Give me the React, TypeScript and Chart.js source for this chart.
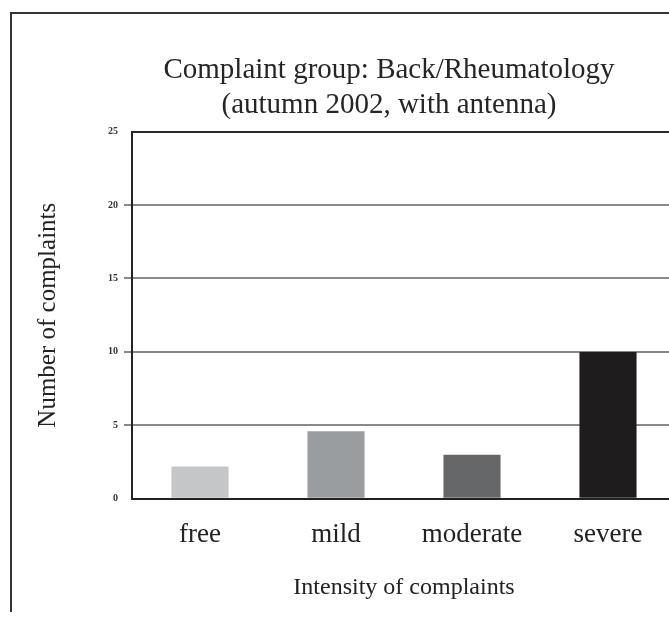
import React, { useEffect, useRef } from "react";
import { Chart, registerables } from "chart.js";

Chart.register(...registerables);

const categories = ["free", "mild", "moderate", "severe"];
const complaintCounts = [2.2, 4.6, 3.0, 10];
const barColors = ["#c4c6c7", "#9a9d9f", "#656768", "#1f1c1d"];
const yMin = 0;
const yMax = 25;
const yStep = 5;
const titleLines = ["Complaint group: Back/Rheumatology", "(autumn 2002, with antenna)"];
const xTitle = "Intensity of complaints";
const yTitle = "Number of complaints";

const SERIF = "'Liberation Serif', 'Times New Roman', serif";

export default function App() {
  const ref = useRef<HTMLCanvasElement | null>(null);

  useEffect(() => {
    if (!ref.current) return;
    const chart = new Chart(ref.current, {
      type: "bar",
      data: {
        labels: categories,
        datasets: [
          {
            data: complaintCounts,
            backgroundColor: barColors,
            borderWidth: 0,
            barPercentage: 0.42,
            categoryPercentage: 1,
          },
        ],
      },
      options: {
        responsive: false,
        animation: false,
        devicePixelRatio: 1,
        layout: { padding: { left: 90, right: 92, top: 0, bottom: 0 } },
        plugins: {
          legend: { display: false },
          tooltip: { enabled: false },
          title: {
            display: true,
            text: titleLines,
            color: "#252525",
            font: { family: SERIF, size: 29, weight: "normal", lineHeight: 1.2 },
            padding: { top: 39, bottom: 9 },
          },
        },
        scales: {
          x: {
            grid: { display: false, drawTicks: false },
            border: { display: true, color: "#222", width: 2 },
            ticks: {
              color: "#222",
              font: { family: SERIF, size: 27 },
              padding: 20,
            },
            title: {
              display: true,
              text: xTitle,
              color: "#222",
              font: { family: SERIF, size: 24 },
              padding: { top: 2, bottom: 10 },
            },
          },
          y: {
            min: yMin,
            max: yMax,
            ticks: {
              stepSize: yStep,
              color: "#333",
              font: { family: SERIF, size: 10, weight: "bold" },
              padding: 6,
            },
            grid: {
              lineWidth: 2,
              color: (ctx: any) => {
                const v = ctx.tick ? ctx.tick.value : null;
                if (v === yMax || v === yMin) return "#2a2a2a";
                return "#8a8a8a";
              },
              tickColor: (ctx: any) => {
                const v = ctx.tick ? ctx.tick.value : null;
                if (v === yMax || v === yMin) return "rgba(0,0,0,0)";
                return "#8a8a8a";
              },
              tickLength: 8,
              tickWidth: 2,
            },
            border: { display: true, color: "#222", width: 2 },
            title: {
              display: true,
              text: yTitle,
              color: "#222",
              font: { family: SERIF, size: 25 },
              padding: { top: -69, bottom: 0 },
            },
            afterFit: (scale: any) => {
              scale.width = 30;
            },
          },
        },
      },
    });
    return () => chart.destroy();
  }, []);

  return (
    <div
      style={{
        position: "absolute",
        left: 10,
        top: 12,
        width: 657,
        height: 598,
        borderLeft: "2px solid #333",
        borderTop: "2px solid #333",
        overflow: "hidden",
        background: "#fff",
      }}
    >
      <canvas ref={ref} width={756} height={598} style={{ display: "block" }} />
    </div>
  );
}
